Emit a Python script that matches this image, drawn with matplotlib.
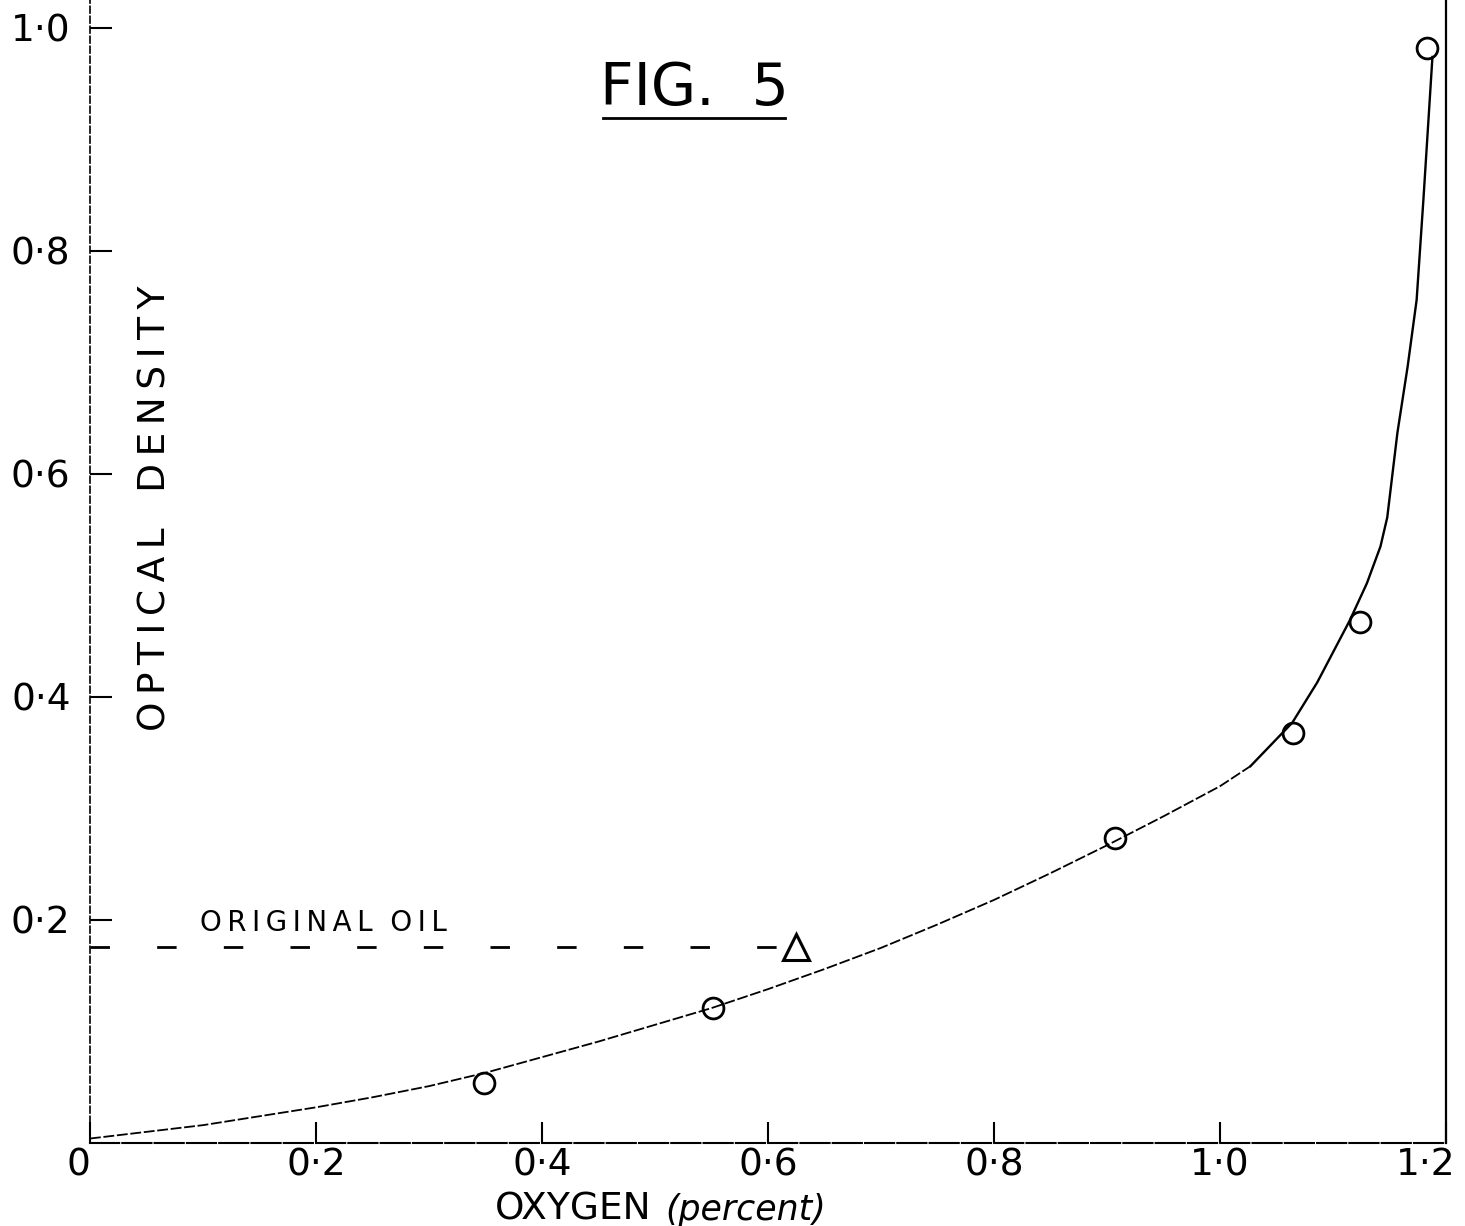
import matplotlib
matplotlib.use("Agg")
import matplotlib.pyplot as plt
import matplotlib.transforms as mtransforms

# measured points (oxygen %, optical density)
oxygen = [0.349, 0.551, 0.907, 1.065, 1.124, 1.183]
density = [0.054, 0.121, 0.2735, 0.368, 0.467, 0.982]

# original oil
oil_x = 0.625
oil_y = 0.176

# hand drawn curve (lower, lighter part)
curve_x = [0.0, 0.05, 0.1, 0.15, 0.2, 0.25, 0.3, 0.35, 0.4, 0.45, 0.5, 0.55,
           0.6, 0.65, 0.7, 0.75, 0.8, 0.85, 0.9, 0.95, 1.0, 1.027]
curve_y = [0.004, 0.010, 0.016, 0.024, 0.032, 0.041, 0.051, 0.063, 0.077,
           0.091, 0.106, 0.121, 0.138, 0.156, 0.175, 0.196, 0.218, 0.242,
           0.267, 0.293, 0.320, 0.338]
# upper, steep part
curve2_x = [1.027, 1.064, 1.086, 1.115, 1.130, 1.142, 1.148, 1.157, 1.166,
            1.174, 1.180, 1.188]
curve2_y = [0.338, 0.377, 0.413, 0.469, 0.502, 0.535, 0.561, 0.637, 0.696,
            0.756, 0.846, 0.974]

xticks = [0, 0.2, 0.4, 0.6, 0.8, 1.0, 1.2]
xlabels = ["0", "0·2", "0·4", "0·6", "0·8", "1·0", "1·2"]
yticks = [0.2, 0.4, 0.6, 0.8, 1.0]
ylabels = ["0·2", "0·4", "0·6", "0·8", "1·0"]

plt.rcParams['font.family'] = ['DejaVu Sans']
fig = plt.figure(figsize=(14.65, 12.26), dpi=100)
ax = fig.add_axes([90/1465, 1 - 1143/1226, (1446-90)/1465, 1143/1226])

ax.plot(curve_x, curve_y, color='black', lw=1.3, ls=(0, (6, 1.5)))
ax.plot(curve2_x, curve2_y, color='black', lw=1.7)
ax.plot(oxygen, density, 'o', ms=15, mfc='none', mec='black', mew=2)
ax.plot([0, oil_x - 0.01], [oil_y, oil_y], color='black', lw=2, dashes=(7, 17))
ax.plot([oil_x], [oil_y], '^', ms=19, mfc='none', mec='black', mew=2.2)

ax.set_xlim(0, 1.2)
ax.set_ylim(0, 1143/1115)

ax.spines['top'].set_visible(False)
ax.spines['left'].set_linestyle((0, (4, 2)))
ax.spines['left'].set_linewidth(1.2)
ax.spines['bottom'].set_linestyle((0, (14, 1.5)))
ax.spines['bottom'].set_linewidth(1.5)
ax.spines['right'].set_linewidth(1.6)

ax.set_xticks(xticks)
ax.set_xticklabels(xlabels)
ax.set_yticks(yticks)
ax.set_yticklabels(ylabels)
ax.tick_params(axis='x', direction='in', length=15, width=1.5, pad=3, labelsize=27)
ax.tick_params(axis='y', direction='in', length=16, width=1.5, pad=14, labelsize=27)
xl = ax.get_xticklabels()
xl[0].set_horizontalalignment('right')
xl[-1].set_transform(xl[-1].get_transform() +
                     mtransforms.ScaledTranslation(-0.2, 0, fig.dpi_scale_trans))

ts = "\u2009"
fig.text(156/1465, 1 - 508/1226, ts.join("OPTICAL") + "   " + ts.join("DENSITY"),
         rotation=90, fontsize=27, ha='center', va='center')
fig.text(200/1465, 1 - 923/1226, ts.join("ORIGINAL") + "  " + ts.join("OIL"),
         fontsize=20, ha='left', va='center')

fig.text(694/1465, 1 - 89/1226, "FIG.  5", fontsize=42, ha='center', va='center')
fig.add_artist(plt.Line2D([603/1465, 785/1465], [1 - 118/1226, 1 - 118/1226],
                          color='black', lw=2))

fig.text(495/1465, 1 - 1220/1226, "OXYGEN", fontsize=27, ha='left', va='baseline')
fig.text(665/1465, 1 - 1220/1226, "(percent)", fontsize=25, style='italic',
         ha='left', va='baseline')

fig.savefig("out.png", dpi=100)
